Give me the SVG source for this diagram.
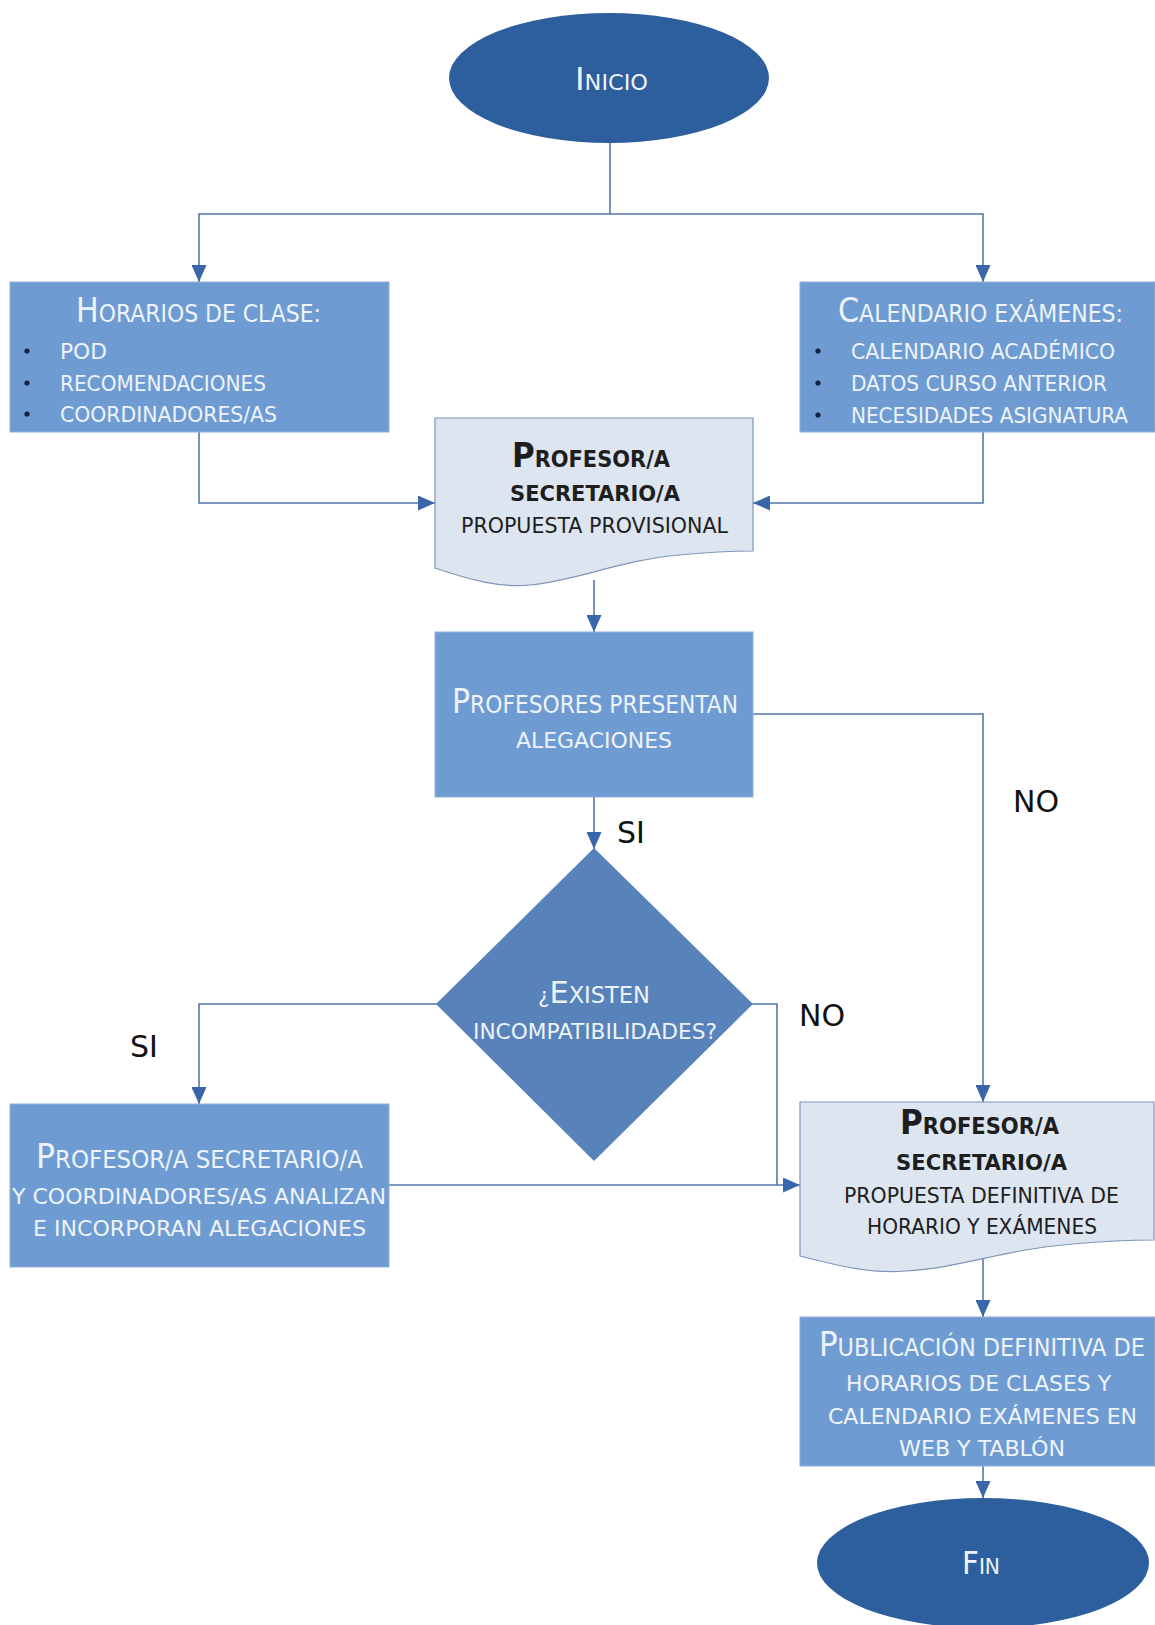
<svg xmlns="http://www.w3.org/2000/svg" width="1155" height="1625" viewBox="0 0 1155 1625">
<style>
.t{font-family:"DejaVu Sans Condensed","DejaVu Sans",sans-serif;}
.lt{fill:#EEF3FA;font-size:22px;}
.dk{fill:#1E1E1E;font-size:22px;}
.b{font-weight:bold;}
.lbl{font-family:"DejaVu Sans",sans-serif;font-size:30px;fill:#111;}
.box{fill:#6E9CD2;stroke:#8DB0DC;stroke-width:1;}
.doc{fill:#DDE5F0;stroke:#7F95B8;stroke-width:1.2;}
.term{fill:#2D5E9E;}
.dia{fill:#5882BA;}
.c{fill:none;stroke:#5376AE;stroke-width:1.6;}
.bul{fill:#14203A;}
</style>
<defs>
<marker id="ah" markerUnits="userSpaceOnUse" markerWidth="17" markerHeight="15" viewBox="0 0 17 15" refX="17" refY="7.5" orient="auto">
<path d="M0,0 L17,7.5 L0,15 Z" fill="#3866A8"/>
</marker>
</defs>
<rect width="1155" height="1625" fill="#FFFFFF"/>
<g id="connectors">
<path class="c" d="M610,140 V214"/>
<path class="c" d="M610,214 H199 V282" marker-end="url(#ah)"/>
<path class="c" d="M610,214 H983 V282" marker-end="url(#ah)"/>
<path class="c" d="M199,430 V503 H435" marker-end="url(#ah)"/>
<path class="c" d="M983,430 V503 H753" marker-end="url(#ah)"/>
<path class="c" d="M594,580 V632" marker-end="url(#ah)"/>
<path class="c" d="M594,795 V849" marker-end="url(#ah)"/>
<path class="c" d="M750,714 H983 V1102" marker-end="url(#ah)"/>
<path class="c" d="M440,1004 H199 V1104" marker-end="url(#ah)"/>
<path class="c" d="M750,1004 H777 V1185"/>
<path class="c" d="M386,1185 H800" marker-end="url(#ah)"/>
<path class="c" d="M983,1250 V1317" marker-end="url(#ah)"/>
<path class="c" d="M983,1464 V1498" marker-end="url(#ah)"/>
</g>
<g id="inicio">
<ellipse class="term" cx="609" cy="78" rx="160" ry="65"/>
<text class="t lt" x="575" y="90" textLength="73" lengthAdjust="spacingAndGlyphs"><tspan font-size="32">I</tspan>NICIO</text>
</g>
<g id="horarios">
<rect class="box" x="10" y="282" width="379" height="150"/>
<text class="t lt" x="76" y="322" textLength="245" lengthAdjust="spacingAndGlyphs"><tspan font-size="33">H</tspan><tspan font-size="24">ORARIOS DE CLASE:</tspan></text>
<circle class="bul" cx="27" cy="351" r="2.6"/>
<circle class="bul" cx="27" cy="383" r="2.6"/>
<circle class="bul" cx="27" cy="414" r="2.6"/>
<text class="t lt" x="60" y="359" textLength="47" lengthAdjust="spacingAndGlyphs">POD</text>
<text class="t lt" x="60" y="391" textLength="206" lengthAdjust="spacingAndGlyphs">RECOMENDACIONES</text>
<text class="t lt" x="60" y="422" textLength="217" lengthAdjust="spacingAndGlyphs">COORDINADORES/AS</text>
</g>
<g id="calendario">
<rect class="box" x="800" y="282" width="355" height="150"/>
<text class="t lt" x="838" y="322" textLength="285" lengthAdjust="spacingAndGlyphs"><tspan font-size="33">C</tspan><tspan font-size="24">ALENDARIO EXÁMENES:</tspan></text>
<circle class="bul" cx="818" cy="351" r="2.6"/>
<circle class="bul" cx="818" cy="383" r="2.6"/>
<circle class="bul" cx="818" cy="415" r="2.6"/>
<text class="t lt" x="851" y="359" textLength="264" lengthAdjust="spacingAndGlyphs">CALENDARIO ACADÉMICO</text>
<text class="t lt" x="851" y="391" textLength="256" lengthAdjust="spacingAndGlyphs">DATOS CURSO ANTERIOR</text>
<text class="t lt" x="851" y="423" textLength="277" lengthAdjust="spacingAndGlyphs">NECESIDADES ASIGNATURA</text>
</g>
<g id="propuesta-provisional">
<path class="doc" d="M435,418 H753 V551 C735,551 710,552 680,555 C620,560 580,580 530,585 C500,588 470,580 435,568 Z"/>
<text class="t dk b" x="512" y="467" textLength="158" lengthAdjust="spacingAndGlyphs"><tspan font-size="34">P</tspan><tspan font-size="23">ROFESOR/A</tspan></text>
<text class="t dk b" x="510" y="501" textLength="170" lengthAdjust="spacingAndGlyphs">SECRETARIO/A</text>
<text class="t dk" x="461" y="533" textLength="267" lengthAdjust="spacingAndGlyphs">PROPUESTA PROVISIONAL</text>
</g>
<g id="alegaciones">
<rect class="box" x="435" y="632" width="318" height="165"/>
<text class="t lt" x="452" y="713" textLength="286" lengthAdjust="spacingAndGlyphs"><tspan font-size="33">P</tspan><tspan font-size="24">ROFESORES PRESENTAN</tspan></text>
<text class="t lt" x="516" y="748" textLength="156" lengthAdjust="spacingAndGlyphs">ALEGACIONES</text>
</g>
<g id="incompatibilidades">
<polygon class="dia" points="594,848 753,1004 594,1161 436,1004"/>
<text class="t lt" x="538" y="1003" textLength="112" lengthAdjust="spacingAndGlyphs"><tspan font-size="22">¿</tspan><tspan font-size="31">E</tspan><tspan font-size="23">XISTEN</tspan></text>
<text class="t lt" x="473" y="1039" textLength="244" lengthAdjust="spacingAndGlyphs">INCOMPATIBILIDADES?</text>
</g>
<g id="analizan">
<rect class="box" x="10" y="1104" width="379" height="163"/>
<text class="t lt" x="36" y="1168" textLength="327" lengthAdjust="spacingAndGlyphs"><tspan font-size="33">P</tspan><tspan font-size="24">ROFESOR/A SECRETARIO/A</tspan></text>
<text class="t lt" x="12" y="1204" textLength="374" lengthAdjust="spacingAndGlyphs">Y COORDINADORES/AS ANALIZAN</text>
<text class="t lt" x="33" y="1236" textLength="333" lengthAdjust="spacingAndGlyphs">E INCORPORAN ALEGACIONES</text>
</g>
<g id="propuesta-definitiva">
<path class="doc" d="M800,1102 H1154 V1240 C1134,1240 1106,1241 1073,1244 C1006,1249 961,1268 905,1271 C872,1274 839,1266 800,1256 Z"/>
<text class="t dk b" x="900" y="1134" textLength="159" lengthAdjust="spacingAndGlyphs"><tspan font-size="34">P</tspan><tspan font-size="23">ROFESOR/A</tspan></text>
<text class="t dk b" x="896" y="1170" textLength="171" lengthAdjust="spacingAndGlyphs">SECRETARIO/A</text>
<text class="t dk" x="844" y="1203" textLength="275" lengthAdjust="spacingAndGlyphs">PROPUESTA DEFINITIVA DE</text>
<text class="t dk" x="867" y="1234" textLength="230" lengthAdjust="spacingAndGlyphs">HORARIO Y EXÁMENES</text>
</g>
<g id="publicacion">
<rect class="box" x="800" y="1317" width="355" height="149"/>
<text class="t lt" x="819" y="1356" textLength="326" lengthAdjust="spacingAndGlyphs"><tspan font-size="33">P</tspan><tspan font-size="24">UBLICACIÓN DEFINITIVA DE</tspan></text>
<text class="t lt" x="846" y="1391" textLength="265" lengthAdjust="spacingAndGlyphs">HORARIOS DE CLASES Y</text>
<text class="t lt" x="828" y="1424" textLength="309" lengthAdjust="spacingAndGlyphs">CALENDARIO EXÁMENES EN</text>
<text class="t lt" x="899" y="1456" textLength="166" lengthAdjust="spacingAndGlyphs">WEB Y TABLÓN</text>
</g>
<g id="fin">
<ellipse class="term" cx="983" cy="1563" rx="166" ry="65"/>
<text class="t lt" x="962" y="1574" textLength="38" lengthAdjust="spacingAndGlyphs"><tspan font-size="32">F</tspan>IN</text>
</g>
<g id="labels">
<text class="lbl" x="617" y="843">SI</text>
<text class="lbl" x="1013" y="812">NO</text>
<text class="lbl" x="799" y="1026">NO</text>
<text class="lbl" x="130" y="1057">SI</text>
</g>
</svg>
